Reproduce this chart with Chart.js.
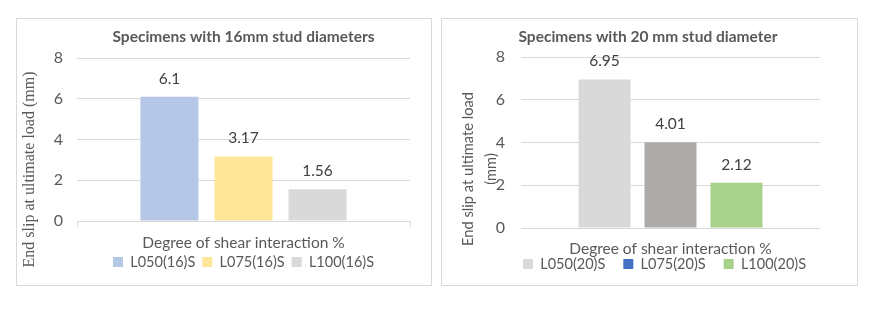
<!DOCTYPE html>
<html>
<head>
<meta charset="utf-8">
<script src="https://cdn.jsdelivr.net/npm/chart.js@4.4.1/dist/chart.umd.min.js"></script>
<style>
    body { margin: 0; background: #fff; }
    .box { position: absolute; border: 1px solid #d9d9d9; }
    #box16 { left: 16px; top: 18px; width: 414px; height: 266px; }
    #box20 { left: 441px; top: 18px; width: 415px; height: 266px; }
</style>
</head>
<body>
<div class="box" id="box16"><canvas id="chart16" width="414" height="266"></canvas></div>
<div class="box" id="box20"><canvas id="chart20" width="415" height="266"></canvas></div>
<script>
// data
const categories = [''];
const series16 = ['L050(16)S', 'L075(16)S', 'L100(16)S'];
const slip16 = [6.1, 3.17, 1.56];
const series20 = ['L050(20)S', 'L075(20)S', 'L100(20)S'];
const slip20 = [6.95, 4.01, 2.12];
const yMin = 0, yMax = 8, yStep = 2;

const barColors16 = ['#B4C7E7', '#FFE699', '#D9D9D9'];
const barColors20 = ['#D9D9D9', '#AEAAAA', '#A9D18E'];
const legendColors20 = ['#D9D9D9', '#4472C4', '#A9D18E']; // legend in the source does not match bar 2

const FONT = 'Lato, "Open Sans", sans-serif';
const TEXT = '#595959';

// value labels above each bar
const valueLabels = {
    id: 'valueLabels',
    afterDatasetsDraw(chart) {
        const ctx = chart.ctx;
        ctx.save();
        ctx.font = '15.5px ' + FONT;
        ctx.fillStyle = '#404040';
        ctx.textAlign = 'center';
        ctx.textBaseline = 'middle';
        chart.data.datasets.forEach((ds, i) => {
            chart.getDatasetMeta(i).data.forEach((bar, j) => {
                ctx.fillText(String(ds.data[j]), bar.x, bar.y - 18);
            });
        });
        ctx.restore();
    }
};

// y axis title, centred lower than the plot like the source does
const yAxisTitle = {
    id: 'yAxisTitle',
    afterDraw(chart, args, o) {
        const ctx = chart.ctx;
        const cy = (chart.chartArea.top + chart.height) / 2 - 2;
        ctx.save();
        ctx.font = o.font;
        ctx.fillStyle = TEXT;
        ctx.textAlign = 'center';
        ctx.textBaseline = 'middle';
        o.lines.forEach((line, i) => {
            ctx.save();
            ctx.translate(o.x + i * o.lineGap, cy);
            ctx.rotate(-Math.PI / 2);
            ctx.fillText(line, 0, 0);
            ctx.restore();
        });
        ctx.restore();
    }
};

// nudge title / legend sideways after layout
const shiftBoxes = {
    id: 'shiftBoxes',
    afterLayout(chart, args, o) {
        if (o.title && chart.titleBlock) { chart.titleBlock.left += o.title; chart.titleBlock.right += o.title; }
        if (o.legend && chart.legend) { chart.legend.left += o.legend; chart.legend.right += o.legend; }
    }
};

function makeChart(id, opts) {
    const datasets = opts.names.map((name, i) => ({
        label: name,
        data: [opts.values[i]],
        backgroundColor: opts.colors[i],
        categoryPercentage: opts.catPct,
        barPercentage: opts.barPct
    }));

    new Chart(document.getElementById(id), {
        type: 'bar',
        data: { labels: categories, datasets: datasets },
        plugins: [valueLabels, yAxisTitle, shiftBoxes],
        options: {
            responsive: false,
            animation: false,
            layout: { padding: { left: 0, right: opts.padRight, top: 0, bottom: opts.padBottom } },
            plugins: {
                tooltip: { enabled: false },
                yAxisTitle: opts.yTitle,
                shiftBoxes: opts.shift,
                title: {
                    display: true,
                    text: opts.title,
                    fullSize: opts.full,
                    color: TEXT,
                    font: { family: FONT, size: 15.5, weight: 'bold' },
                    padding: { top: 8.7, bottom: opts.titleBottom }
                },
                legend: {
                    position: 'bottom',
                    fullSize: opts.full,
                    labels: {
                        boxWidth: 10,
                        boxHeight: 10,
                        padding: opts.legendPad,
                        color: TEXT,
                        font: { family: FONT, size: 14.5 },
                        generateLabels(chart) {
                            return chart.data.datasets.map((ds, i) => ({
                                text: ds.label,
                                fillStyle: opts.legendColors[i],
                                strokeStyle: opts.legendColors[i],
                                lineWidth: 0,
                                fontColor: TEXT,
                                datasetIndex: i,
                                hidden: false
                            }));
                        }
                    }
                }
            },
            scales: {
                x: {
                    ticks: { display: false },
                    grid: {
                        display: opts.xTicks,
                        drawOnChartArea: false,
                        drawTicks: true,
                        tickLength: 6,
                        color: '#d9d9d9'
                    },
                    border: { display: opts.xTicks, color: '#d9d9d9' },
                    title: {
                        display: true,
                        text: 'Degree of shear interaction %',
                        color: TEXT,
                        font: { family: FONT, size: 15.5 },
                        padding: { top: 0, bottom: opts.xTitlePad }
                    },
                    afterFit(scale) { scale.height = opts.xHeight; }
                },
                y: {
                    min: yMin,
                    max: yMax,
                    ticks: { stepSize: yStep, padding: opts.tickPad, color: TEXT, font: { family: FONT, size: 16 } },
                    grid: { color: '#d9d9d9', drawTicks: false },
                    border: { display: false },
                    afterFit(scale) { scale.width = opts.yWidth; }
                }
            }
        }
    });
}

makeChart('chart16', {
    title: 'Specimens with 16mm stud diameters',
    full: false,
    titleBottom: 11.7,
    names: series16,
    values: slip16,
    colors: barColors16,
    legendColors: barColors16,
    catPct: 0.667,
    barPct: 0.784,
    padRight: 21,
    padBottom: 5.75,
    legendPad: 7,
    xTicks: true,
    xHeight: 26.75,
    xTitlePad: -4.55,
    yWidth: 60,
    tickPad: 14,
    shift: {},
    yTitle: { lines: ['End slip at ultimate load (mm)'], x: 13, lineGap: 0,
              font: '16px "Liberation Serif", "DejaVu Serif", serif' }
});

makeChart('chart20', {
    title: 'Specimens with 20 mm stud diameter',
    full: true,
    titleBottom: 10.7,
    names: series20,
    values: slip20,
    colors: barColors20,
    legendColors: legendColors20,
    catPct: 0.662,
    barPct: 0.788,
    padRight: 37,
    padBottom: 3.75,
    legendPad: 18,
    xTicks: false,
    xHeight: 10.75,
    xTitlePad: -19.55,
    yWidth: 79,
    tickPad: 16,
    shift: { title: 17, legend: 33.5 },
    yTitle: { lines: ['End slip at ultimate load', '(mm)'], x: 26, lineGap: 23,
              font: '14.7px ' + FONT }
});
</script>
</body>
</html>
